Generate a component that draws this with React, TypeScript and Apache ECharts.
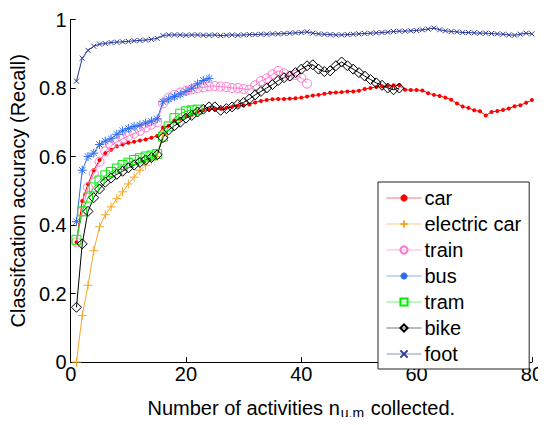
import React, { useEffect, useRef } from "react";
import * as echarts from "echarts";

const seriesNames = ["car", "electric car", "train", "bus", "tram", "bike", "foot"];
const xTicks = [0, 20, 40, 60, 80];

const carVals = [
  0.35, 0.47, 0.52, 0.56, 0.59, 0.61, 0.62, 0.63, 0.635, 0.64,
  0.643, 0.647, 0.65, 0.655, 0.66, 0.685, 0.69, 0.705, 0.71, 0.718,
  0.722, 0.73, 0.735, 0.737, 0.738, 0.74, 0.742, 0.745, 0.748, 0.75,
  0.752, 0.758, 0.762, 0.765, 0.767, 0.768, 0.768, 0.769, 0.77, 0.772,
  0.775, 0.778, 0.78, 0.783, 0.786, 0.787, 0.788, 0.79, 0.79, 0.792,
  0.797, 0.8, 0.803, 0.805, 0.806, 0.808, 0.808, 0.795, 0.794, 0.794,
  0.793, 0.785, 0.78, 0.777, 0.772, 0.766, 0.755, 0.746, 0.742, 0.735,
  0.732, 0.72, 0.73, 0.733, 0.736, 0.74, 0.747, 0.75, 0.757, 0.765,
];
const eCarVals = [
  0.0, 0.136, 0.224, 0.325, 0.395, 0.43, 0.453, 0.477, 0.497, 0.52,
  0.54, 0.56, 0.575, 0.59, 0.6, 0.665,
];
const trainVals = [
  0.35, 0.44, 0.51, 0.55, 0.585, 0.615, 0.632, 0.643, 0.652, 0.66,
  0.667, 0.675, 0.685, 0.693, 0.7, 0.755, 0.772, 0.78, 0.787, 0.792,
  0.796, 0.8, 0.802, 0.805, 0.806, 0.804, 0.803, 0.8, 0.8, 0.797,
  0.795, 0.808, 0.82, 0.828, 0.84, 0.85, 0.843, 0.835, 0.838, 0.83,
  0.813,
];
const busVals = [
  0.41, 0.56, 0.6, 0.61, 0.635, 0.645, 0.652, 0.665, 0.675, 0.682,
  0.688, 0.692, 0.698, 0.703, 0.71, 0.76, 0.768, 0.775, 0.782, 0.79,
  0.8, 0.812, 0.822, 0.828,
];
const tramVals = [
  0.357, 0.44, 0.48, 0.51, 0.53, 0.545, 0.555, 0.565, 0.575, 0.582,
  0.59, 0.595, 0.6, 0.603, 0.607, 0.658, 0.688, 0.712, 0.725, 0.732,
  0.735, 0.737,
];
const bikeVals = [
  0.16, 0.345, 0.44, 0.48, 0.505, 0.525, 0.537, 0.548, 0.557, 0.567,
  0.575, 0.583, 0.59, 0.597, 0.605, 0.655, 0.678, 0.69, 0.7, 0.712,
  0.72, 0.73, 0.738, 0.745, 0.745, 0.735, 0.74, 0.745, 0.752, 0.758,
  0.768, 0.78, 0.79, 0.8, 0.81, 0.822, 0.83, 0.835, 0.845, 0.855,
  0.865, 0.868, 0.855, 0.848, 0.85, 0.865, 0.876, 0.865, 0.855, 0.845,
  0.835, 0.825, 0.815, 0.808, 0.8, 0.795, 0.8,
];
const footVals = [
  0.82, 0.887, 0.91, 0.922, 0.928, 0.93, 0.933, 0.934, 0.935, 0.936,
  0.938, 0.939, 0.94, 0.942, 0.945, 0.953, 0.955, 0.955, 0.955, 0.954,
  0.955, 0.955, 0.954, 0.954, 0.955, 0.953, 0.954, 0.955, 0.954, 0.955,
  0.956, 0.956, 0.957, 0.957, 0.958, 0.958, 0.959, 0.96, 0.961, 0.962,
  0.964, 0.96, 0.958, 0.957, 0.956, 0.955, 0.955, 0.956, 0.957, 0.958,
  0.959, 0.96, 0.961, 0.962, 0.963, 0.965, 0.966, 0.966, 0.967, 0.968,
  0.97, 0.972, 0.975, 0.97, 0.967, 0.965, 0.964, 0.962, 0.962, 0.961,
  0.96, 0.96, 0.959, 0.958, 0.957, 0.955, 0.954, 0.957, 0.96, 0.958,
];

const FONT = "'Liberation Sans', Arial, sans-serif";
const PLUS = "path://M0 5 L10 5 M5 0 L5 10";
const STAR = "path://M0 5 L10 5 M5 0 L5 10 M1.5 1.5 L8.5 8.5 M1.5 8.5 L8.5 1.5";
const CROSS = "path://M0 0 L10 10 M0 10 L10 0";

function pts(vals: number[]) {
  return vals.map((v, i) => [i + 1, v]);
}

export default function App() {
  const ref = useRef<HTMLDivElement>(null);
  useEffect(() => {
    if (!ref.current) return;
    const chart = echarts.init(ref.current, undefined, { renderer: "svg" });

    const mk = (
      name: string,
      vals: number[],
      color: string,
      symbol: string,
      size: number,
      filled: boolean
    ) => ({
      name,
      type: "line",
      data: pts(vals),
      symbol,
      symbolSize: size,
      showAllSymbol: true,
      lineStyle: { color, width: 1 },
      itemStyle: filled
        ? { color, borderColor: color, borderWidth: 0 }
        : { color: "rgba(0,0,0,0)", borderColor: color, borderWidth: 1 },
      emphasis: { disabled: true },
    });

    chart.setOption({
      animation: false,
      backgroundColor: "#ffffff",
      textStyle: { fontFamily: FONT },
      grid: { left: 67, right: 11, top: 19.5, bottom: 53, containLabel: false },
      xAxis: {
        type: "value",
        min: xTicks[0],
        max: xTicks[xTicks.length - 1],
        interval: 20,
        name: "{n|Number of activities n}{s|u,m}{n| collected.}",
        nameLocation: "middle",
        nameGap: 19,
        nameTextStyle: {
          rich: {
            n: { fontSize: 20, fontFamily: FONT, color: "#000", verticalAlign: "top", lineHeight: 22 },
            s: { fontSize: 14, fontFamily: FONT, color: "#000", verticalAlign: "bottom", lineHeight: 15, padding: [17, 1, 0, 1] },
          },
        },
        axisLine: { lineStyle: { color: "#000", width: 1 } },
        axisTick: { inside: true, length: 5, lineStyle: { color: "#000" } },
        axisLabel: { color: "#000", fontSize: 20, fontFamily: FONT, margin: 2 },
        splitLine: { show: false },
      },
      yAxis: {
        type: "value",
        min: 0,
        max: 1,
        interval: 0.2,
        name: "Classifcation accuracy (Recall)",
        nameLocation: "middle",
        nameGap: 37,
        nameTextStyle: { fontSize: 20, fontFamily: FONT, color: "#000" },
        axisLine: { show: true, lineStyle: { color: "#000", width: 1 } },
        axisTick: { show: true, inside: true, length: 5, lineStyle: { color: "#000" } },
        axisLabel: { color: "#000", fontSize: 20, fontFamily: FONT, margin: 4 },
        splitLine: { show: false },
      },
      legend: {
        orient: "vertical",
        left: 378,
        top: 182,
        width: 152,
        padding: [6, 8, 5, 8],
        itemGap: 6,
        itemWidth: 35,
        itemHeight: 9,
        borderColor: "#222",
        borderWidth: 1,
        backgroundColor: "#fff",
        lineStyle: { width: 1, opacity: 0.55 },
        textStyle: { fontSize: 20, fontFamily: FONT, color: "#000", lineHeight: 20, padding: [0, 0, 0, -2] },
        data: seriesNames,
      },
      series: [
        mk(seriesNames[0], carVals, "#ff0000", "circle", 4, true),
        mk(seriesNames[1], eCarVals, "#f5a623", PLUS, 9, false),
        mk(seriesNames[2], trainVals, "#ff77cc", "circle", 9, false),
        mk(seriesNames[3], busVals, "#2f6cf0", STAR, 9, false),
        mk(seriesNames[4], tramVals, "#00ee00", "rect", 9, false),
        mk(seriesNames[5], bikeVals, "#000000", "diamond", 10, false),
        mk(seriesNames[6], footVals, "#2a3a9a", CROSS, 5, false),
      ],
    });
    return () => chart.dispose();
  }, []);

  return (
    <div style={{ margin: -8 }}>
      <div ref={ref} style={{ width: 546, height: 425 }} />
    </div>
  );
}
